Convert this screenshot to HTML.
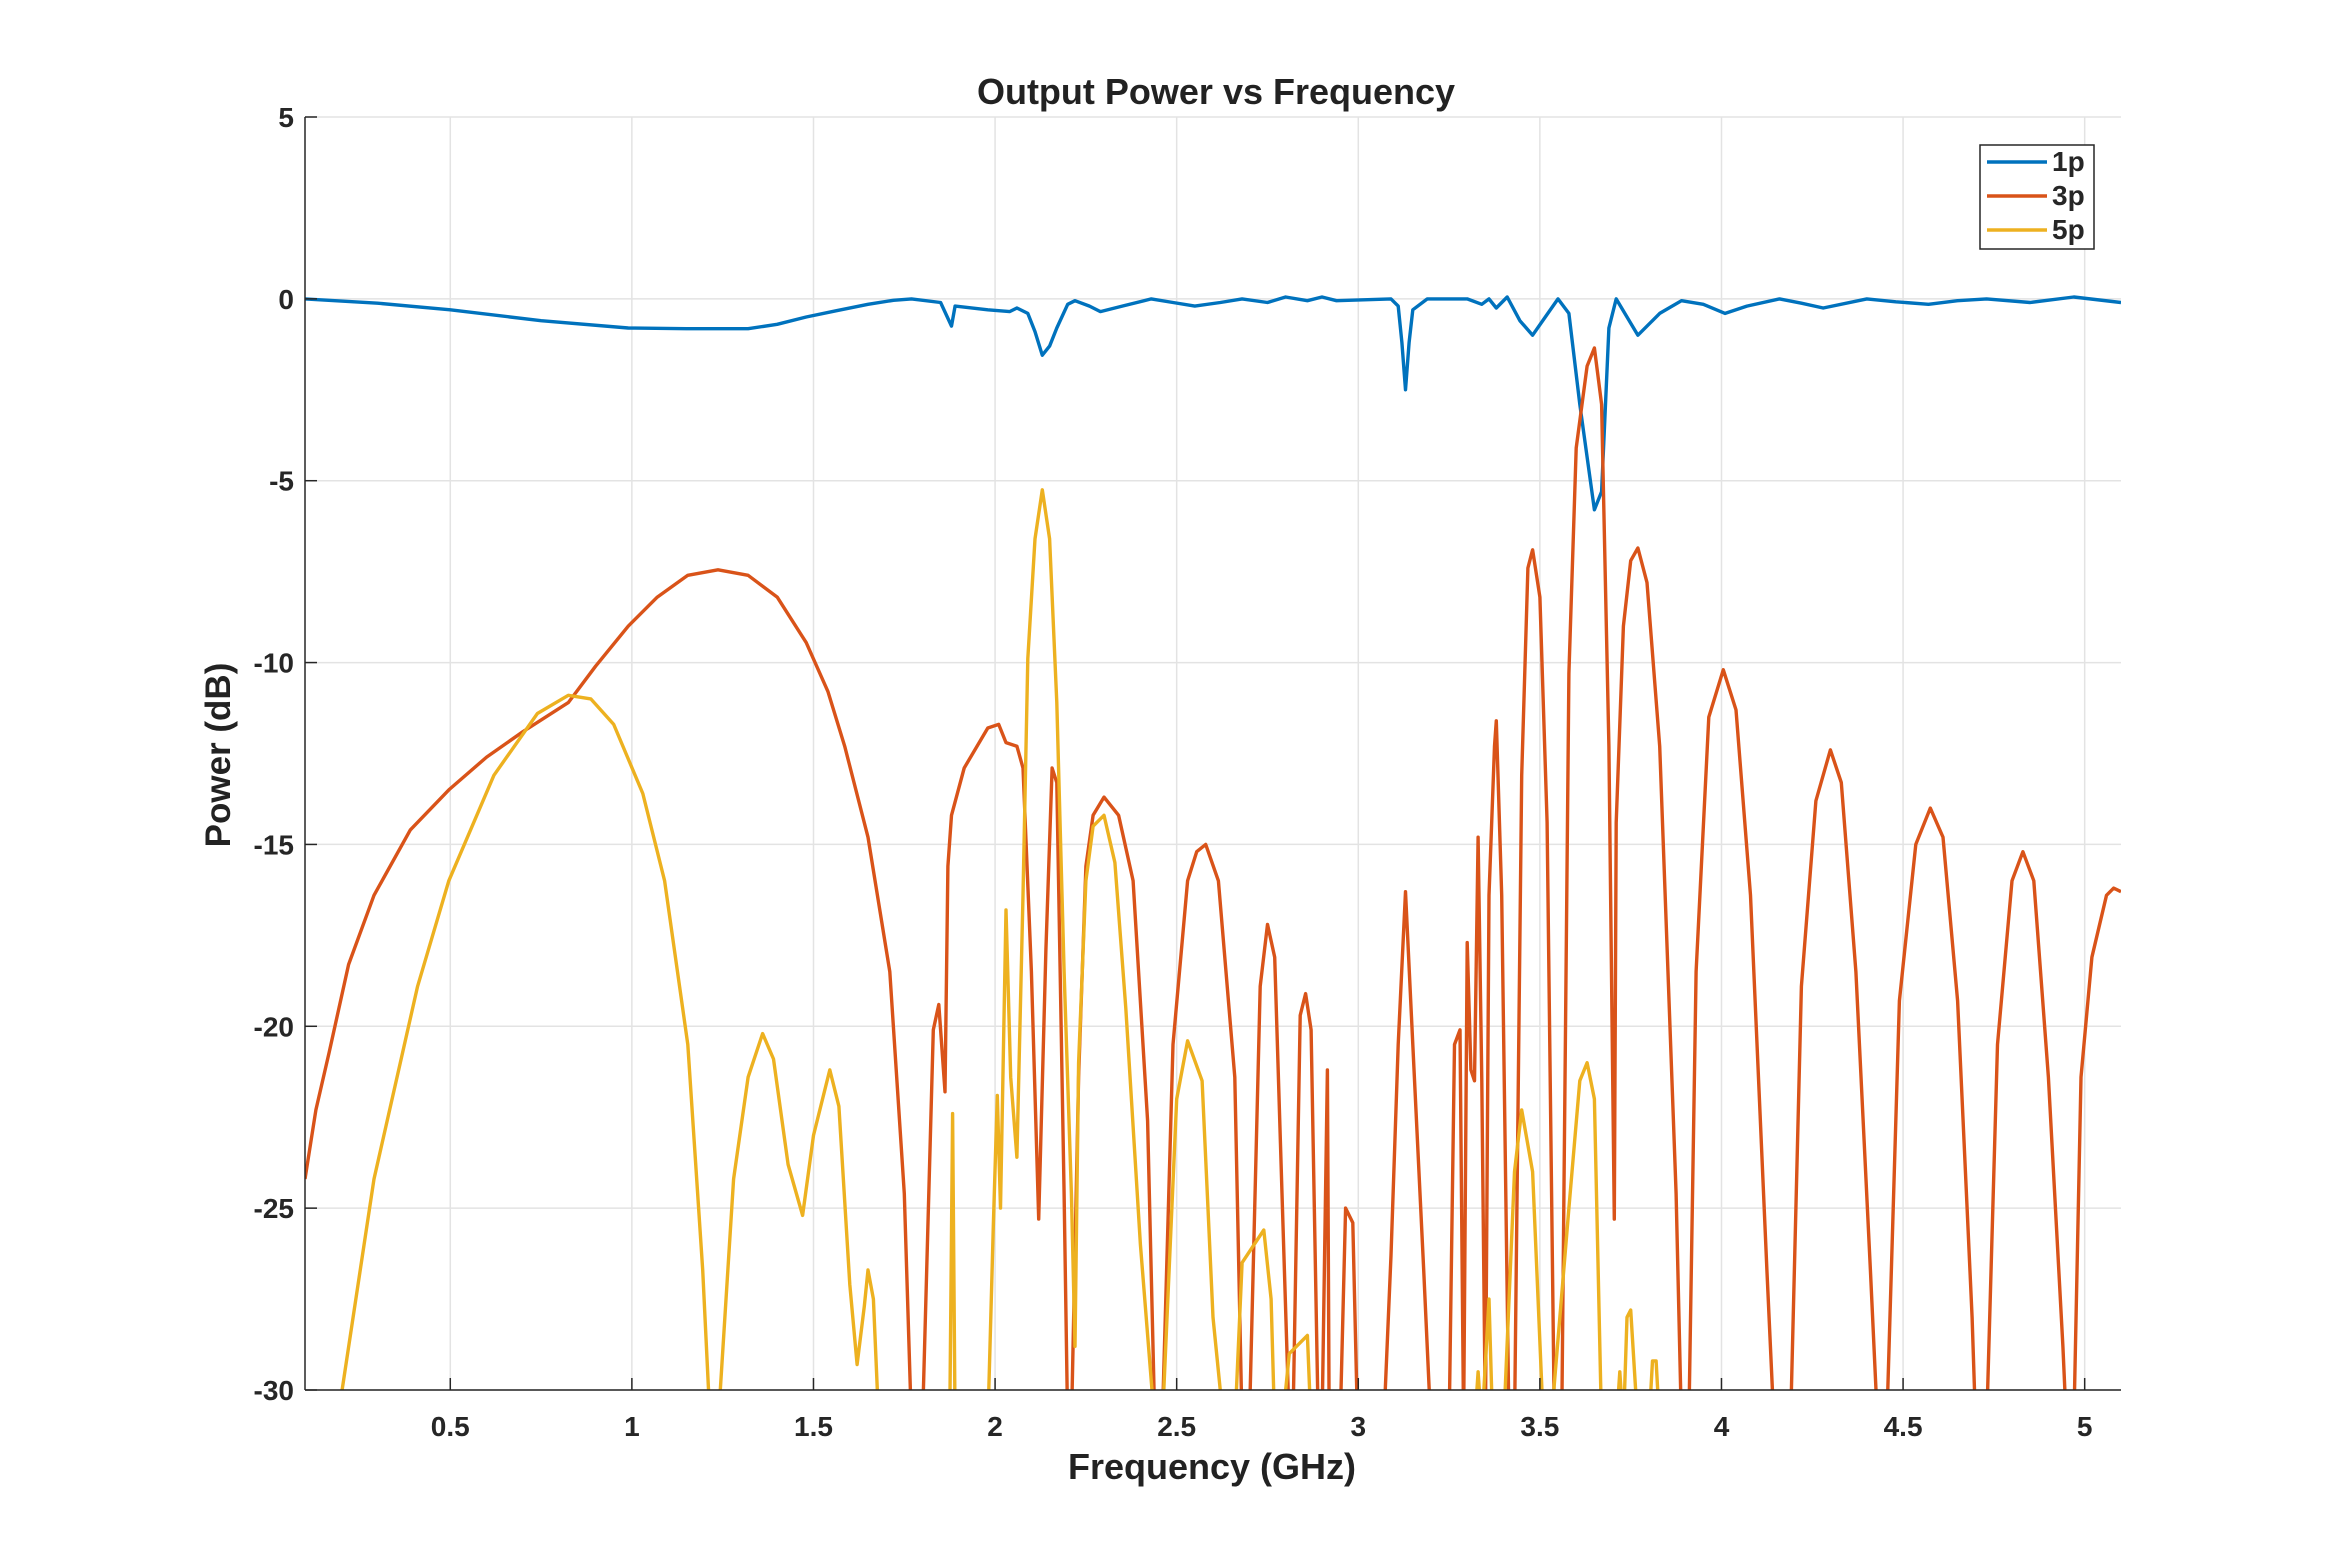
<!DOCTYPE html>
<html><head><meta charset="utf-8"><style>
html,body{margin:0;padding:0;background:#fff;}
svg{display:block;font-family:"Liberation Sans",Arial,sans-serif;}
</style></head><body>
<svg id="chart" width="2344" height="1563" viewBox="0 0 2344 1563" xmlns="http://www.w3.org/2000/svg">
<rect width="2344" height="1563" fill="#fff"/>
<defs><clipPath id="pc"><rect x="305" y="117" width="1816" height="1273"/></clipPath></defs>
<g id="grid"></g>
<g id="series" clip-path="url(#pc)"></g>
<g id="axes"></g>
<text x="1216" y="104" text-anchor="middle" font-size="36" font-weight="bold" fill="#222">Output Power vs Frequency</text>
<text x="1212" y="1479" text-anchor="middle" font-size="36" font-weight="bold" fill="#222">Frequency (GHz)</text>
<text transform="translate(230,755) rotate(-90)" text-anchor="middle" font-size="35" font-weight="bold" fill="#222">Power (dB)</text>
<g id="legend"></g>
</svg>
<script>
const xTicks=[0.5,1,1.5,2,2.5,3,3.5,4,4.5,5];
const xTickLabels=["0.5","1","1.5","2","2.5","3","3.5","4","4.5","5"];
const yTicks=[5,0,-5,-10,-15,-20,-25,-30];
const yTickLabels=["5","0","-5","-10","-15","-20","-25","-30"];
const seriesNames=["1p","3p","5p"];
const p1x=[0.1,0.3,0.5,0.75,0.99,1.15,1.32,1.4,1.48,1.56,1.65,1.72,1.77,1.85,1.88,1.89,1.98,2.04,2.06,2.09,2.11,2.13,2.15,2.17,2.2,2.22,2.26,2.29,2.35,2.43,2.49,2.55,2.62,2.68,2.75,2.8,2.86,2.9,2.94,3.09,3.11,3.12,3.13,3.14,3.15,3.19,3.3,3.34,3.36,3.38,3.41,3.445,3.48,3.515,3.55,3.58,3.61,3.65,3.67,3.69,3.71,3.74,3.77,3.83,3.89,3.95,4.01,4.07,4.16,4.22,4.28,4.4,4.48,4.57,4.65,4.73,4.85,4.97,5.1];
const p1y=[0,-0.12,-0.3,-0.6,-0.8,-0.82,-0.82,-0.7,-0.5,-0.33,-0.15,-0.04,0,-0.1,-0.75,-0.2,-0.3,-0.35,-0.25,-0.4,-0.9,-1.55,-1.3,-0.8,-0.15,-0.05,-0.2,-0.35,-0.2,0,-0.1,-0.2,-0.1,0,-0.1,0.05,-0.05,0.05,-0.05,0,-0.2,-1.2,-2.5,-1.2,-0.3,0,0,-0.15,0,-0.25,0.05,-0.6,-1.0,-0.5,0,-0.4,-2.9,-5.8,-5.3,-0.8,0,-0.5,-1.0,-0.4,-0.05,-0.15,-0.4,-0.2,0,-0.12,-0.25,0,-0.08,-0.15,-0.05,0,-0.1,0.05,-0.1];
const p3x=[0.1,0.13,0.167,0.22,0.29,0.39,0.496,0.60,0.70,0.825,0.90,0.99,1.07,1.154,1.237,1.32,1.40,1.48,1.54,1.586,1.65,1.71,1.75,1.77,1.80,1.83,1.845,1.862,1.87,1.88,1.915,1.98,2.01,2.03,2.06,2.077,2.10,2.12,2.14,2.157,2.17,2.19,2.20,2.21,2.23,2.25,2.27,2.30,2.34,2.38,2.42,2.44,2.46,2.49,2.53,2.555,2.58,2.615,2.66,2.68,2.70,2.73,2.75,2.77,2.79,2.81,2.82,2.84,2.855,2.87,2.89,2.90,2.915,2.92,2.95,2.965,2.985,2.998,3.07,3.09,3.11,3.13,3.15,3.18,3.20,3.25,3.265,3.28,3.29,3.30,3.31,3.32,3.33,3.34,3.35,3.36,3.375,3.38,3.395,3.415,3.43,3.45,3.467,3.48,3.50,3.52,3.54,3.56,3.58,3.60,3.63,3.65,3.67,3.69,3.705,3.71,3.73,3.75,3.77,3.795,3.83,3.875,3.89,3.91,3.93,3.965,4.005,4.04,4.08,4.125,4.145,4.19,4.22,4.26,4.30,4.33,4.37,4.41,4.43,4.455,4.49,4.535,4.575,4.61,4.65,4.69,4.70,4.73,4.76,4.80,4.83,4.86,4.90,4.94,4.95,4.97,4.99,5.02,5.06,5.08,5.1];
const p3y=[-24.2,-22.3,-20.7,-18.3,-16.4,-14.6,-13.5,-12.6,-11.9,-11.1,-10.1,-9,-8.2,-7.6,-7.45,-7.6,-8.2,-9.45,-10.8,-12.3,-14.8,-18.5,-24.6,-31,-31,-20.1,-19.4,-21.8,-15.6,-14.2,-12.9,-11.8,-11.7,-12.2,-12.3,-12.9,-18.5,-25.3,-17.9,-12.9,-13.3,-24.6,-31,-31,-21.4,-15.6,-14.2,-13.7,-14.2,-16,-22.6,-31,-31,-20.5,-16,-15.2,-15,-16,-21.4,-31,-31,-18.9,-17.2,-18.1,-24.6,-31,-31,-19.7,-19.1,-20.1,-31,-31,-21.2,-31,-31,-25,-25.4,-31,-31,-26.3,-20.5,-16.3,-20.5,-26.7,-31,-31,-20.5,-20.1,-31,-17.7,-21.2,-21.5,-14.8,-21.5,-31,-16.4,-12.3,-11.6,-16.4,-31,-31,-13.1,-7.4,-6.9,-8.2,-14.4,-31,-31,-10.3,-4.1,-1.85,-1.35,-2.9,-12.3,-25.3,-14.4,-9,-7.2,-6.85,-7.8,-12.3,-24.6,-31,-31,-18.5,-11.5,-10.2,-11.3,-16.4,-26.7,-31,-31,-18.9,-13.8,-12.4,-13.3,-18.5,-26.7,-31,-31,-19.3,-15,-14,-14.8,-19.3,-28,-31,-31,-20.5,-16,-15.2,-16,-21.4,-28.8,-31,-31,-21.4,-18.1,-16.4,-16.2,-16.3];
const p5x=[0.187,0.29,0.41,0.496,0.62,0.74,0.825,0.887,0.95,1.03,1.09,1.154,1.195,1.216,1.237,1.28,1.32,1.36,1.39,1.43,1.47,1.50,1.545,1.57,1.60,1.62,1.64,1.65,1.665,1.68,1.875,1.883,1.89,1.98,1.995,2.006,2.015,2.03,2.043,2.06,2.077,2.09,2.11,2.13,2.15,2.17,2.19,2.21,2.22,2.23,2.25,2.27,2.30,2.33,2.36,2.40,2.44,2.46,2.50,2.53,2.57,2.60,2.63,2.66,2.68,2.74,2.76,2.77,2.79,2.81,2.86,2.87,2.88,3.32,3.33,3.34,3.36,3.37,3.38,3.40,3.43,3.45,3.48,3.51,3.52,3.53,3.58,3.61,3.63,3.65,3.67,3.68,3.71,3.72,3.73,3.74,3.75,3.77,3.78,3.80,3.81,3.82,3.83];
const p5y=[-31,-24.2,-18.9,-16,-13.1,-11.4,-10.9,-11,-11.7,-13.6,-16,-20.5,-26.7,-31,-31,-24.2,-21.4,-20.2,-20.9,-23.8,-25.2,-23,-21.2,-22.2,-27.1,-29.3,-27.7,-26.7,-27.5,-31,-31,-22.4,-31,-31,-25.5,-21.9,-25,-16.8,-21.4,-23.6,-16.4,-9.9,-6.6,-5.25,-6.6,-11.1,-18.5,-24.6,-28.8,-21,-16,-14.5,-14.2,-15.5,-19.5,-26,-31,-31,-22,-20.4,-21.5,-28,-31,-31,-26.5,-25.6,-27.5,-31,-31,-29,-28.5,-31,-31,-31,-29.5,-31,-27.5,-31,-31,-31,-24,-22.3,-24,-31,-31,-31,-25,-21.5,-21,-22,-31,-31,-31,-29.5,-31,-28,-27.8,-31,-31,-31,-29.2,-29.2,-31];
const colors=["#0072BD","#D95319","#EDB120"];
const X0=305,X1=2121,Y0=117,Y1=1390,xmin=0.1,xmax=5.1,ymin=-30,ymax=5;
function sx(v){return X0+(v-xmin)/(xmax-xmin)*(X1-X0);}
function sy(v){return Y1-(v-ymin)/(ymax-ymin)*(Y1-Y0);}
const NS="http://www.w3.org/2000/svg";
function mk(t,a,p){const e=document.createElementNS(NS,t);for(const k in a)e.setAttribute(k,a[k]);p.appendChild(e);return e;}
const grid=document.getElementById('grid'),axes=document.getElementById('axes'),ser=document.getElementById('series'),leg=document.getElementById('legend');
xTicks.forEach((t,i)=>{
 const l=mk('line',{x1:sx(t),x2:sx(t),y1:Y0,y2:Y1,stroke:'#e3e3e3','stroke-width':1.5},grid);
 
 
 const tk=mk('line',{x1:sx(t),x2:sx(t),y1:Y1,y2:Y1-12,stroke:'#262626','stroke-width':1.5},axes);
 
 
 const tx=mk('text',{x:sx(t),y:1436,'text-anchor':'middle','font-size':28,'font-weight':'bold',fill:'#262626'},axes);
 tx.textContent=xTickLabels[i];
 
 
});
yTicks.forEach((t,i)=>{
 const l=mk('line',{x1:X0,x2:X1,y1:sy(t),y2:sy(t),stroke:'#e3e3e3','stroke-width':1.5},grid);
 
 
 const tk=mk('line',{x1:X0,x2:X0+12,y1:sy(t),y2:sy(t),stroke:'#262626','stroke-width':1.5},axes);
 
 
 const tx=mk('text',{x:294,y:sy(t)+10,'text-anchor':'end','font-size':28,'font-weight':'bold',fill:'#262626'},axes);
 tx.textContent=yTickLabels[i];
 
 
});
const xa=mk('line',{x1:X0,x2:X1,y1:Y1,y2:Y1,stroke:'#262626','stroke-width':1.5},axes);


const ya=mk('line',{x1:X0,x2:X0,y1:Y0,y2:Y1,stroke:'#262626','stroke-width':1.5},axes);


const allX=[p1x,p3x,p5x],allY=[p1y,p3y,p5y];
for(let s=0;s<3;s++){
 const d=allX[s].map((v,i)=>(i?'L':'M')+sx(v).toFixed(1)+','+sy(allY[s][i]).toFixed(1)).join(' ');
 const p=mk('path',{d:d,fill:'none',stroke:colors[s],'stroke-width':3.4,'stroke-linejoin':'round'},ser);
 
 
}
const lb=mk('rect',{x:1980,y:145,width:114,height:104,fill:'#fff',stroke:'#262626','stroke-width':1.5},leg);


seriesNames.forEach((n,i)=>{
 const y=162+i*34;
 const l=mk('line',{x1:1987,x2:2047,y1:y,y2:y,stroke:colors[i],'stroke-width':3.4},leg);
 
 
 const t=mk('text',{x:2052,y:y+9,'font-size':28,'font-weight':'bold',fill:'#262626'},leg);
 t.textContent=n;
 
 
});
</script>
</body></html>
